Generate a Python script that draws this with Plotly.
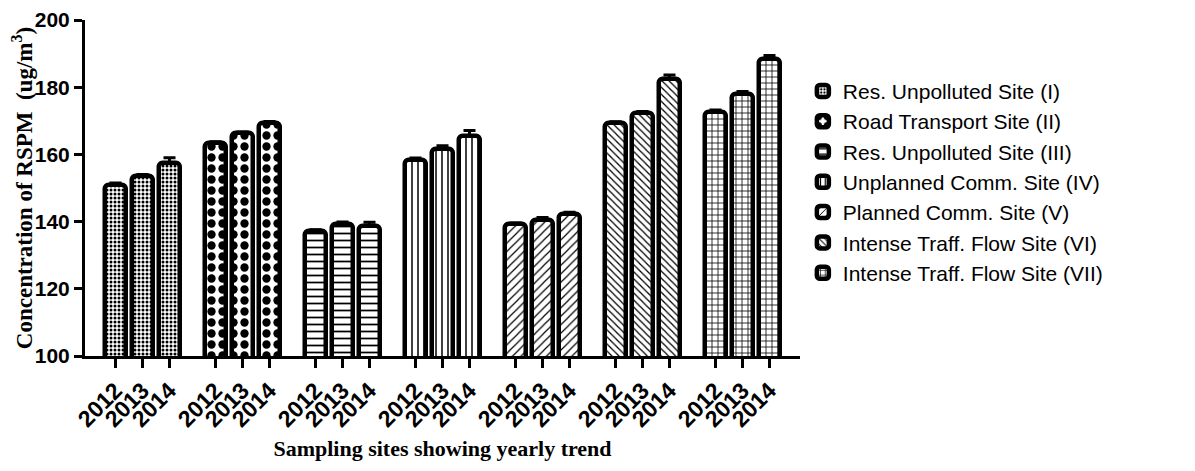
import plotly.graph_objects as go

sites = [
    "Res. Unpolluted Site (I)",
    "Road Transport Site (II)",
    "Res. Unpolluted Site (III)",
    "Unplanned Comm. Site (IV)",
    "Planned Comm. Site (V)",
    "Intense Traff. Flow Site (VI)",
    "Intense Traff. Flow Site (VII)",
]
years = ["2012", "2013", "2014"]

site_I = [151.0, 153.6, 157.5]
site_II = [163.3, 166.3, 169.3]
site_III = [137.2, 139.4, 138.6]
site_IV = [158.2, 161.6, 165.6]
site_V = [139.2, 140.6, 142.2]
site_VI = [169.4, 172.2, 182.4]
site_VII = [172.6, 178.0, 188.4]

err_I = [0.5, 0.4, 1.5]
err_II = [0.5, 0.4, 0.5]
err_III = [0.4, 0.5, 1.2]
err_IV = [0.7, 1.0, 1.5]
err_V = [0.4, 0.6, 0.6]
err_VI = [0.3, 0.6, 1.2]
err_VII = [0.6, 0.7, 1.0]

values = [site_I, site_II, site_III, site_IV, site_V, site_VI, site_VII]
errors = [err_I, err_II, err_III, err_IV, err_V, err_VI, err_VII]

patterns = [
    dict(shape=".", size=4, solidity=0.45),
    dict(shape=".", size=11, solidity=0.45),
    dict(shape="-", size=7, solidity=0.25),
    dict(shape="|", size=6, solidity=0.25),
    dict(shape="/", size=6, solidity=0.2),
    dict(shape="\\", size=5, solidity=0.25),
    dict(shape="+", size=6, solidity=0.25),
]

GROUP_STEP = 100 / 27.0  # group spacing relative to bar spacing

fig = go.Figure()
tickvals, ticktext = [], []
for g, (name, vals, errs, pat) in enumerate(zip(sites, values, errors, patterns)):
    xs = [g * GROUP_STEP + j for j in range(len(years))]
    tickvals += xs
    ticktext += years
    fig.add_trace(go.Bar(
        x=xs, y=vals, name=name, width=0.78,
        marker=dict(color="white", line=dict(color="black", width=4.5),
                    pattern=dict(fgcolor="black", bgcolor="white", fillmode="replace", **pat),
                    cornerradius=4),
        error_y=dict(type="data", array=errs, arrayminus=[0] * len(errs), symmetric=False,
                     color="black", thickness=3, width=6),
    ))

last = (len(sites) - 1) * GROUP_STEP + 2
# page body has an 8px default margin: the figure is sized/offset to compensate
fig.update_layout(
    width=1187, height=463,
    margin=dict(l=77, r=395, t=12, b=115),
    plot_bgcolor="white", paper_bgcolor="white",
    showlegend=True,
    bargap=0,
    legend=dict(x=1.004, xanchor="left", y=0.849, yanchor="top",
                font=dict(family="Liberation Sans, Arial", size=21, color="black"),
                tracegroupgap=0, bgcolor="rgba(0,0,0,0)"),
    xaxis=dict(range=[-1.13, last + 1.13], tickvals=tickvals, ticktext=ticktext,
               tickangle=-45, showline=True, linecolor="black", linewidth=3,
               ticks="outside", ticklen=9, tickwidth=3, tickcolor="black",
               showgrid=False, zeroline=False, automargin=False,
               tickfont=dict(family="Liberation Sans, Arial", size=23, color="black", weight="bold"),
               title=dict(text="Sampling sites showing yearly trend",
                          font=dict(family="Liberation Serif, Times New Roman", size=22,
                                    color="black", weight="bold"), standoff=10)),
    yaxis=dict(range=[100, 200], tickvals=[100, 120, 140, 160, 180, 200],
               showline=True, linecolor="black", linewidth=3,
               ticks="outside", ticklen=8, tickwidth=3, tickcolor="black",
               showgrid=False, zeroline=False, automargin=False,
               tickfont=dict(family="Liberation Sans, Arial", size=21, color="black", weight="bold"),
               title=dict(text="Concentration of RSPM  (ug/m<sup>3</sup>)",
                          font=dict(family="Liberation Serif, Times New Roman", size=23,
                                    color="black", weight="bold"), standoff=6)),
)

fig.write_html("out.html")
